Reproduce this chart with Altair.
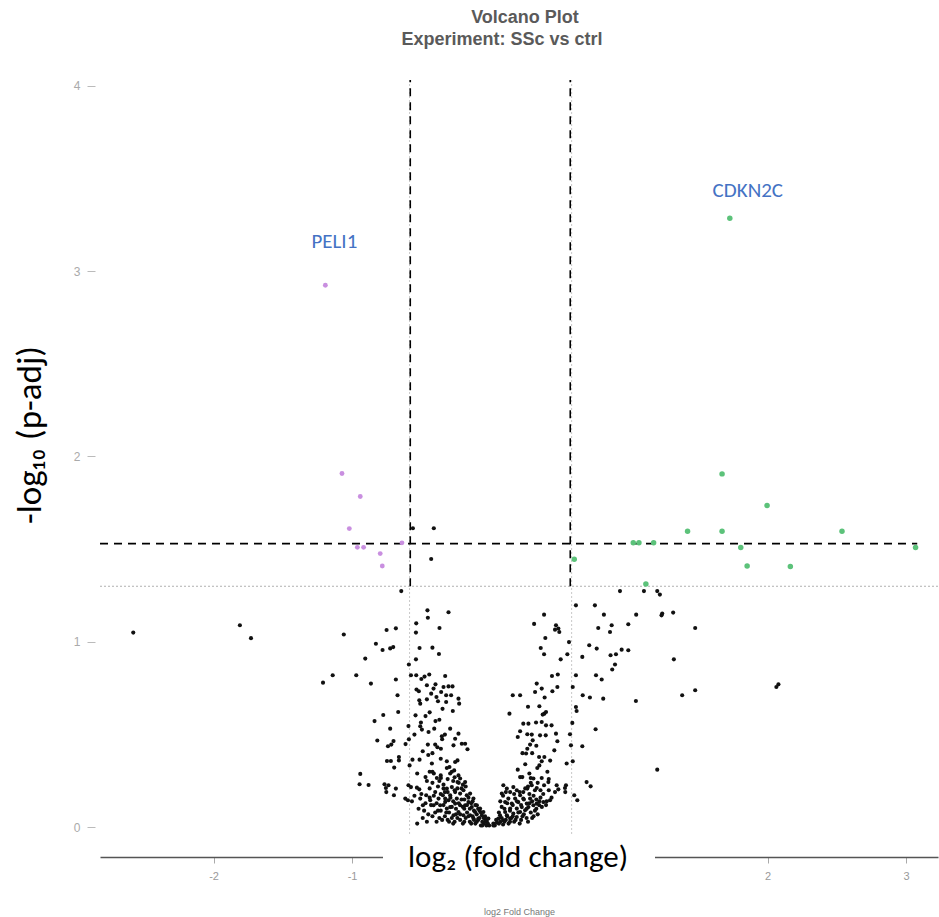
import altair as alt
import pandas as pd

# ---- data -------------------------------------------------------------
# non-significant genes: log2 fold change and -log10 adjusted p
ns_fc = [
    -2.58, -1.81, -1.73, -1.06, -1.21, -1.14, -0.97, -0.905, -0.828, -0.78, -0.751, -0.684,
    -0.725, -0.703, -0.864, -0.684, -0.672, -0.667, -0.775, -0.838, -0.725, -0.593, -0.818,
    -0.741, -0.717, -0.701, -0.614, -0.59, -0.748, -0.72, -0.696, -0.662, -0.662, -0.585,
    -0.564, -0.513, -0.941, -0.946, -0.881, -0.766, -0.756, -0.737, -0.753, -0.698, -0.684,
    -0.593, -0.575, -0.532, -0.515, -0.616, -0.597, -0.568, -0.508, -0.489,
    -0.645, -0.561, -0.41, -0.429,
    -0.456, -0.453, -0.304, -0.537, -0.539, -0.369, -0.513, -0.42, -0.373, -0.59, -0.539,
    -0.575, -0.537, -0.477, -0.443, -0.535, -0.518, -0.46, -0.398, -0.412, -0.429, -0.391,
    -0.357, -0.34, -0.321, -0.515, -0.508, -0.347, -0.542, -0.503, -0.508, -0.496, -0.448,
    -0.398, -0.407, -0.453, -0.4, -0.384, -0.359, -0.352, -0.35, -0.424, -0.316, -0.316,
    -0.47, -0.46, -0.388, -0.359, -0.34, -0.34,
    -0.328, -0.304, -0.275, -0.285, -0.232, -0.227, -0.321, -0.273, -0.292, -0.256, -0.232,
    -0.208, -0.184, -0.167, -0.268, -0.297, -0.256, -0.239, -0.292, -0.263, -0.232, -0.22,
    -0.239, -0.2, -0.184,
    -0.47, -0.44, -0.45, -0.49, -0.42, -0.37, -0.36, -0.33, -0.38, -0.46, -0.50, -0.55,
    -0.53, -0.42,
    0.386, 0.314, 0.472, 0.489, 0.465, 0.496, 0.395, 0.362, 0.386, 0.506, 0.554, 0.443,
    0.485, 0.333, 0.369, 0.321, 0.446, 0.482, 0.16, 0.213, 0.136, 0.352, 0.388, 0.4,
    0.376, 0.236, 0.273, 0.328, 0.369, 0.4, 0.213, 0.196, 0.265, 0.297, 0.357, 0.398,
    0.472, 0.482, 0.46, 0.304, 0.285, 0.265, 0.256, 0.35, 0.369, 0.388, 0.352, 0.337,
    0.549, 0.196, 0.213, 0.229, 0.28, 0.29, 0.309, 0.369, 0.477, 0.465, 0.489, 0.429,
    0.405, 0.381, 0.352, 0.333, 0.544, 0.386, 0.417, 0.333, 0.297, 0.265, 0.236,
    0.25, 0.30, 0.33, 0.43, 0.41, 0.23, 0.44, 0.39, 0.27, 0.42,
    0.934, 1.107, 1.203, 1.222, 0.616, 0.753, 0.818, 1.051, 1.239, 1.234, 1.318, 0.777,
    0.874, 0.862, 0.994, 0.566, 0.712, 0.766, 0.946, 0.994, 0.866, 0.905, 0.662, 1.323,
    0.898, 0.878, 0.616, 0.761, 0.802, 0.593, 0.665, 0.717, 0.813, 1.049, 1.383, 0.616,
    0.621, 0.59, 0.758, 0.573, 0.58, 0.662, 0.593, 1.203, 0.693, 0.722, 0.537, 0.539,
    0.604, 0.626, 1.477, 1.477, 2.078, 2.063,
]
ns_p = [
    1.05, 1.09, 1.02, 1.04, 0.78, 0.82, 0.82, 0.91, 0.99, 0.956, 1.064, 1.073,
    0.965, 0.972, 0.775, 0.797, 0.712, 0.622, 0.606, 0.573, 0.532, 0.546, 0.468,
    0.437, 0.446, 0.465, 0.449, 0.475, 0.358, 0.358, 0.322, 0.379, 0.361, 0.334,
    0.365, 0.365, 0.288, 0.232, 0.228, 0.232, 0.212, 0.227, 0.19, 0.173, 0.209,
    0.227, 0.217, 0.214, 0.205, 0.155, 0.146, 0.14, 0.155, 0.119,
    1.274, 1.613, 1.613, 1.447,
    1.17, 1.13, 1.16, 1.10, 1.05, 1.075, 0.967, 0.969, 0.935, 0.878, 0.906,
    0.82, 0.82, 0.813, 0.824, 0.743, 0.734, 0.766, 0.771, 0.748, 0.721, 0.703,
    0.73, 0.757, 0.712, 0.685, 0.667, 0.639, 0.604, 0.565, 0.545, 0.527, 0.514,
    0.573, 0.532, 0.446, 0.446, 0.432, 0.424, 0.491, 0.475, 0.344, 0.356, 0.32,
    0.271, 0.25, 0.266, 0.266, 0.23, 0.209,
    0.816, 0.76, 0.76, 0.712, 0.694, 0.667, 0.676, 0.627, 0.532, 0.478, 0.505,
    0.451, 0.451, 0.421, 0.442, 0.325, 0.352, 0.361, 0.29, 0.307, 0.28, 0.263,
    0.244, 0.23, 0.244,
    0.60, 0.62, 0.39, 0.41, 0.40, 0.58, 0.37, 0.50, 0.68, 0.69, 0.80, 0.50,
    0.29, 0.30,
    1.147, 1.097, 1.09, 1.072, 1.066, 1.053, 1.021, 0.967, 0.933, 0.906, 0.933, 0.816,
    0.824, 0.775, 0.748, 0.73, 0.734, 0.757, 0.712, 0.712, 0.613, 0.653, 0.613, 0.622,
    0.608, 0.559, 0.559, 0.565, 0.568, 0.55, 0.518, 0.487, 0.502, 0.5, 0.496, 0.496,
    0.505, 0.464, 0.415, 0.469, 0.446, 0.424, 0.398, 0.379, 0.356, 0.379, 0.334, 0.32,
    0.344, 0.311, 0.271, 0.271, 0.29, 0.266, 0.263, 0.266, 0.227, 0.19, 0.205, 0.146,
    0.14, 0.136, 0.14, 0.128, 0.227, 0.227, 0.244, 0.212, 0.227, 0.209, 0.19,
    0.34, 0.40, 0.44, 0.36, 0.30, 0.40, 0.55, 0.70, 0.65, 0.26,
    1.274, 1.274, 1.274, 1.255, 1.197, 1.197, 1.147, 1.147, 1.153, 1.143, 1.158, 1.075,
    1.09, 1.053, 1.095, 0.999, 0.982, 0.964, 0.958, 0.955, 0.928, 0.933, 0.919, 0.906,
    0.878, 0.851, 0.82, 0.82, 0.797, 0.757, 0.712, 0.7, 0.694, 0.681, 0.712, 0.649,
    0.627, 0.563, 0.529, 0.502, 0.442, 0.437, 0.356, 0.311, 0.244, 0.221, 0.212, 0.19,
    0.173, 0.146, 1.075, 0.739, 0.771, 0.757,
]

# dense core of unchanged genes near zero fold change
core_fc = [
    -0.465, -0.436, -0.412, -0.4, -0.376, -0.364, -0.345, -0.328, -0.316, -0.304,
    -0.316, -0.28, -0.256, -0.292, -0.328, -0.244, -0.22, -0.196, -0.172, -0.148, -0.124,
    -0.16, -0.184, -0.22, -0.256, -0.292, -0.136, -0.099, -0.076, -0.112, -0.063, -0.04,
    -0.027, -0.088, -0.148, -0.196, -0.232, -0.268, -0.124, -0.052, -0.016,
    -0.48, -0.45, -0.42, -0.40, -0.37, -0.36, -0.33, -0.31, -0.30, -0.28, -0.26, -0.25,
    -0.22, -0.20, -0.18, -0.15, -0.13, -0.11, -0.09, -0.07, -0.05, -0.03,
    -0.44, -0.42, -0.38, -0.36, -0.31, -0.27, -0.24, -0.21, -0.19, -0.17, -0.14, -0.10,
    -0.08, -0.06, -0.04, -0.01, -0.52, -0.55, -0.47, -0.39,
    -0.46, -0.43, -0.41, -0.39, -0.38, -0.35, -0.34, -0.33, -0.32, -0.30, -0.29, -0.28,
    -0.27, -0.27, -0.26, -0.25, -0.24, -0.23, -0.23, -0.22, -0.21, -0.20, -0.19, -0.19,
    -0.18, -0.17, -0.16, -0.16, -0.15, -0.14, -0.13, -0.12, -0.12, -0.11, -0.10, -0.09,
    -0.08, -0.07, -0.06, -0.05, -0.04, -0.03, -0.02, -0.36, -0.31, -0.28, -0.26, -0.44,
    -0.41, -0.50, -0.49, -0.53, -0.44, -0.37,
    0.092, 0.117, 0.081, 0.141, 0.164, 0.189, 0.213, 0.177, 0.128, 0.105, 0.153, 0.2,
    0.236, 0.261, 0.285, 0.225, 0.189, 0.141, 0.105, 0.068, 0.117, 0.164, 0.213, 0.249,
    0.273, 0.309, 0.056, 0.092, 0.045, 0.02, 0.141, 0.189,
    0.03, 0.07, 0.09, 0.11, 0.13, 0.15, 0.17, 0.22, 0.24, 0.26, 0.29, 0.31, 0.33, 0.35,
    0.36, 0.30, 0.28, 0.32, 0.34, 0.27,
    0.02, 0.04, 0.06, 0.06, 0.08, 0.08, 0.10, 0.10, 0.12, 0.12, 0.14, 0.14, 0.16, 0.16,
    0.17, 0.18, 0.19, 0.20, 0.21, 0.21, 0.22, 0.23, 0.24, 0.25, 0.26, 0.27, 0.28, 0.29,
    0.30, 0.31, 0.32, 0.33, 0.34, 0.36, 0.37, 0.38, 0.40, 0.42, 0.44, 0.09, 0.07, 0.11,
]
core_p = [
    0.173, 0.146, 0.119, 0.19, 0.155, 0.119, 0.173, 0.137, 0.101, 0.146,
    0.209, 0.217, 0.19, 0.173, 0.155, 0.155, 0.182, 0.2, 0.173, 0.182, 0.155,
    0.136, 0.119, 0.119, 0.128, 0.109, 0.109, 0.119, 0.101, 0.083, 0.065, 0.047,
    0.029, 0.047, 0.065, 0.065, 0.083, 0.065, 0.047, 0.083, 0.047,
    0.09, 0.07, 0.06, 0.08, 0.05, 0.09, 0.06, 0.04, 0.08, 0.05, 0.03, 0.07,
    0.04, 0.02, 0.05, 0.03, 0.06, 0.02, 0.04, 0.01, 0.02, 0.01,
    0.21, 0.24, 0.22, 0.18, 0.19, 0.25, 0.21, 0.15, 0.10, 0.08, 0.13, 0.07,
    0.09, 0.03, 0.06, 0.01, 0.10, 0.17, 0.13, 0.03,
    0.03, 0.12, 0.17, 0.13, 0.09, 0.04, 0.12, 0.19, 0.08, 0.03, 0.16, 0.11,
    0.02, 0.14, 0.20, 0.10, 0.05, 0.13, 0.24, 0.07, 0.21, 0.11, 0.15, 0.03,
    0.22, 0.12, 0.06, 0.16, 0.10, 0.02, 0.14, 0.09, 0.04, 0.12, 0.03, 0.10,
    0.05, 0.08, 0.01, 0.05, 0.03, 0.04, 0.02, 0.28, 0.26, 0.30, 0.27, 0.30,
    0.29, 0.18, 0.05, 0.02, 0.16, 0.25,
    0.227, 0.209, 0.182, 0.19, 0.217, 0.2, 0.173, 0.155, 0.155, 0.136, 0.128, 0.136,
    0.155, 0.128, 0.155, 0.109, 0.101, 0.101, 0.083, 0.065, 0.065, 0.074, 0.083, 0.092,
    0.109, 0.119, 0.047, 0.038, 0.025, 0.02, 0.047, 0.056,
    0.01, 0.03, 0.015, 0.04, 0.02, 0.05, 0.03, 0.04, 0.07, 0.05, 0.08, 0.06, 0.10, 0.12,
    0.16, 0.14, 0.18, 0.20, 0.24, 0.22,
    0.01, 0.04, 0.02, 0.08, 0.05, 0.11, 0.03, 0.10, 0.06, 0.13, 0.03, 0.09, 0.06, 0.12,
    0.18, 0.04, 0.14, 0.08, 0.02, 0.19, 0.12, 0.06, 0.15, 0.21, 0.10, 0.03, 0.13, 0.24,
    0.05, 0.17, 0.09, 0.15, 0.07, 0.20, 0.11, 0.18, 0.12, 0.20, 0.16, 0.17, 0.14, 0.19,
]

# significantly down-regulated genes
down_fc = [-1.193, -1.073, -0.941, -1.02, -0.962, -0.917, -0.797, -0.782, -0.64]
down_p = [2.923, 1.908, 1.784, 1.611, 1.51, 1.51, 1.476, 1.409, 1.534]

# significantly up-regulated genes
up_fc = [1.727, 1.671, 1.996, 1.422, 1.671, 2.537, 1.03, 1.071, 1.177, 1.806, 3.068,
         0.604, 1.852, 2.164, 1.121]
up_p = [3.285, 1.906, 1.735, 1.597, 1.597, 1.597, 1.534, 1.534, 1.534, 1.509, 1.509,
        1.446, 1.409, 1.406, 1.312]

# labelled genes and where their names sit
label_text = ["PELI1", "CDKN2C"]
label_fc = [-1.128, 1.857]
label_p = [3.158, 3.43]

# thresholds
padj_cut = 1.30          # -log10(0.05)
fc_cut = 0.585           # log2(1.5)
marked_p = 1.53          # hand-drawn horizontal guide
x_ticks = [-2, -1, 0, 1, 2, 3]
y_ticks = [0, 1, 2, 3, 4]

# ---- tables -------------------------------------------------------------
pts = pd.concat([
    pd.DataFrame({"fc": ns_fc + core_fc, "p": ns_p + core_p, "grp": "ns"}),
    pd.DataFrame({"fc": down_fc, "p": down_p, "grp": "down"}),
    pd.DataFrame({"fc": up_fc, "p": up_p, "grp": "up"}),
], ignore_index=True)
labels = pd.DataFrame({"fc": label_fc, "p": label_p, "txt": label_text})

XMIN, XMAX = -2.82, 3.23
YMIN, YMAX = -0.16, 4.03
xs = alt.Scale(domain=[XMIN, XMAX], nice=False, zero=False)
ys = alt.Scale(domain=[YMIN, YMAX], nice=False, zero=False)
# ASCII hyphen for negatives; 0 and 1 sit under the big caption box
xax = alt.Axis(
    values=x_ticks, title="log2 Fold Change", grid=False,
    labelExpr="datum.value == 0 || datum.value == 1 ? '' : replace(datum.label, '\u2212', '-')",
)
yax = alt.Axis(values=y_ticks, title=None, grid=False)

def X(f):
    return alt.X(f, type="quantitative", scale=xs, axis=xax)

def Y(f):
    return alt.Y(f, type="quantitative", scale=ys, axis=yax)

# dotted significance guides
dot_h = alt.Chart(pd.DataFrame({"p": [padj_cut]})).mark_rule(
    color="#b0b0b0", strokeDash=[2, 2], strokeWidth=1
).encode(y=Y("p"))
dot_v = alt.Chart(pd.DataFrame({"fc": [-fc_cut, fc_cut]})).mark_rule(
    color="#c8c8c8", strokeDash=[2, 2], strokeWidth=1
).encode(x=X("fc"))

# dashed black guides
dash_h = alt.Chart(pd.DataFrame({"p": [marked_p], "a": [XMIN], "b": [3.08]})).mark_rule(
    color="black", strokeDash=[8, 6], strokeWidth=1.6
).encode(y=Y("p"), x=X("a"), x2="b")
dash_v = alt.Chart(pd.DataFrame({"fc": [-0.58, 0.575], "a": [padj_cut, padj_cut],
                                 "b": [YMAX, YMAX]})).mark_rule(
    color="black", strokeDash=[8, 6], strokeWidth=1.6
).encode(x=X("fc"), y=Y("a"), y2="b")

color = alt.Color("grp:N", legend=None,
                  scale=alt.Scale(domain=["ns", "down", "up"],
                                  range=["#111111", "#c98fe0", "#5cc27a"]))
size = alt.Size("grp:N", legend=None,
                scale=alt.Scale(domain=["ns", "down", "up"], range=[17, 30, 30]))
points = alt.Chart(pts).mark_circle(opacity=1).encode(
    x=X("fc"), y=Y("p"), color=color, size=size
)

gene_labels = alt.Chart(labels).mark_text(
    font="Carlito, Open Sans", fontSize=21, color="#4472c4"
).encode(x=X("fc"), y=Y("p"), text="txt:N")

# overlaid axis captions
one = pd.DataFrame({"k": [0]})
x_cap_bg = alt.Chart(one).mark_rect(color="white").encode(
    x=alt.value(283), x2=alt.value(555), y=alt.value(754), y2=alt.value(812)
)
x_cap = alt.Chart(one).mark_text(
    text="log\u2082 (fold change)", font="Carlito, Open Sans", fontSize=31,
    color="black", align="center", baseline="middle"
).encode(x=alt.value(418), y=alt.value(778))
y_cap = alt.Chart(one).mark_text(
    text="-log\u2081\u2080 (p-adj)", font="Carlito, Open Sans", fontSize=35,
    color="black", align="center", baseline="middle", angle=270
).encode(x=alt.value(-70), y=alt.value(355))

title1 = alt.Chart(one).mark_text(
    text="Volcano Plot", font="Liberation Sans", fontSize=18, fontWeight="bold",
    color="#5a5a5a", align="center", baseline="middle"
).encode(x=alt.value(425), y=alt.value(-62))
title2 = alt.Chart(one).mark_text(
    text="Experiment: SSc vs ctrl", font="Liberation Sans", fontSize=18, fontWeight="bold",
    color="#5a5a5a", align="center", baseline="middle"
).encode(x=alt.value(402), y=alt.value(-40))

chart = alt.layer(
    dot_h, dot_v, dash_h, dash_v, points, gene_labels,
    x_cap_bg, x_cap, y_cap, title1, title2
).properties(
    width=838, height=777,
    autosize=alt.AutoSizeParams(type="none"),
    padding={"left": 100, "top": 80, "right": 1, "bottom": 60},
).configure_view(stroke=None).configure_axisX(
    domainColor="#555555", domainWidth=1.5, tickColor="#aaaaaa", tickSize=6,
    labelColor="#9a9a9a", labelFont="Liberation Sans", labelFontSize=11, labelPadding=7,
    titleColor="#777777", titleFont="Liberation Sans", titleFontSize=9,
    titleFontWeight="normal", titlePadding=26,
).configure_axisY(
    domain=False, tickColor="#bbbbbb", tickSize=8, offset=5,
    labelColor="#aaaaaa", labelFont="Liberation Sans", labelFontSize=12, labelPadding=7,
)

chart.save("out.html", embed_options={"renderer": "svg", "actions": False})
